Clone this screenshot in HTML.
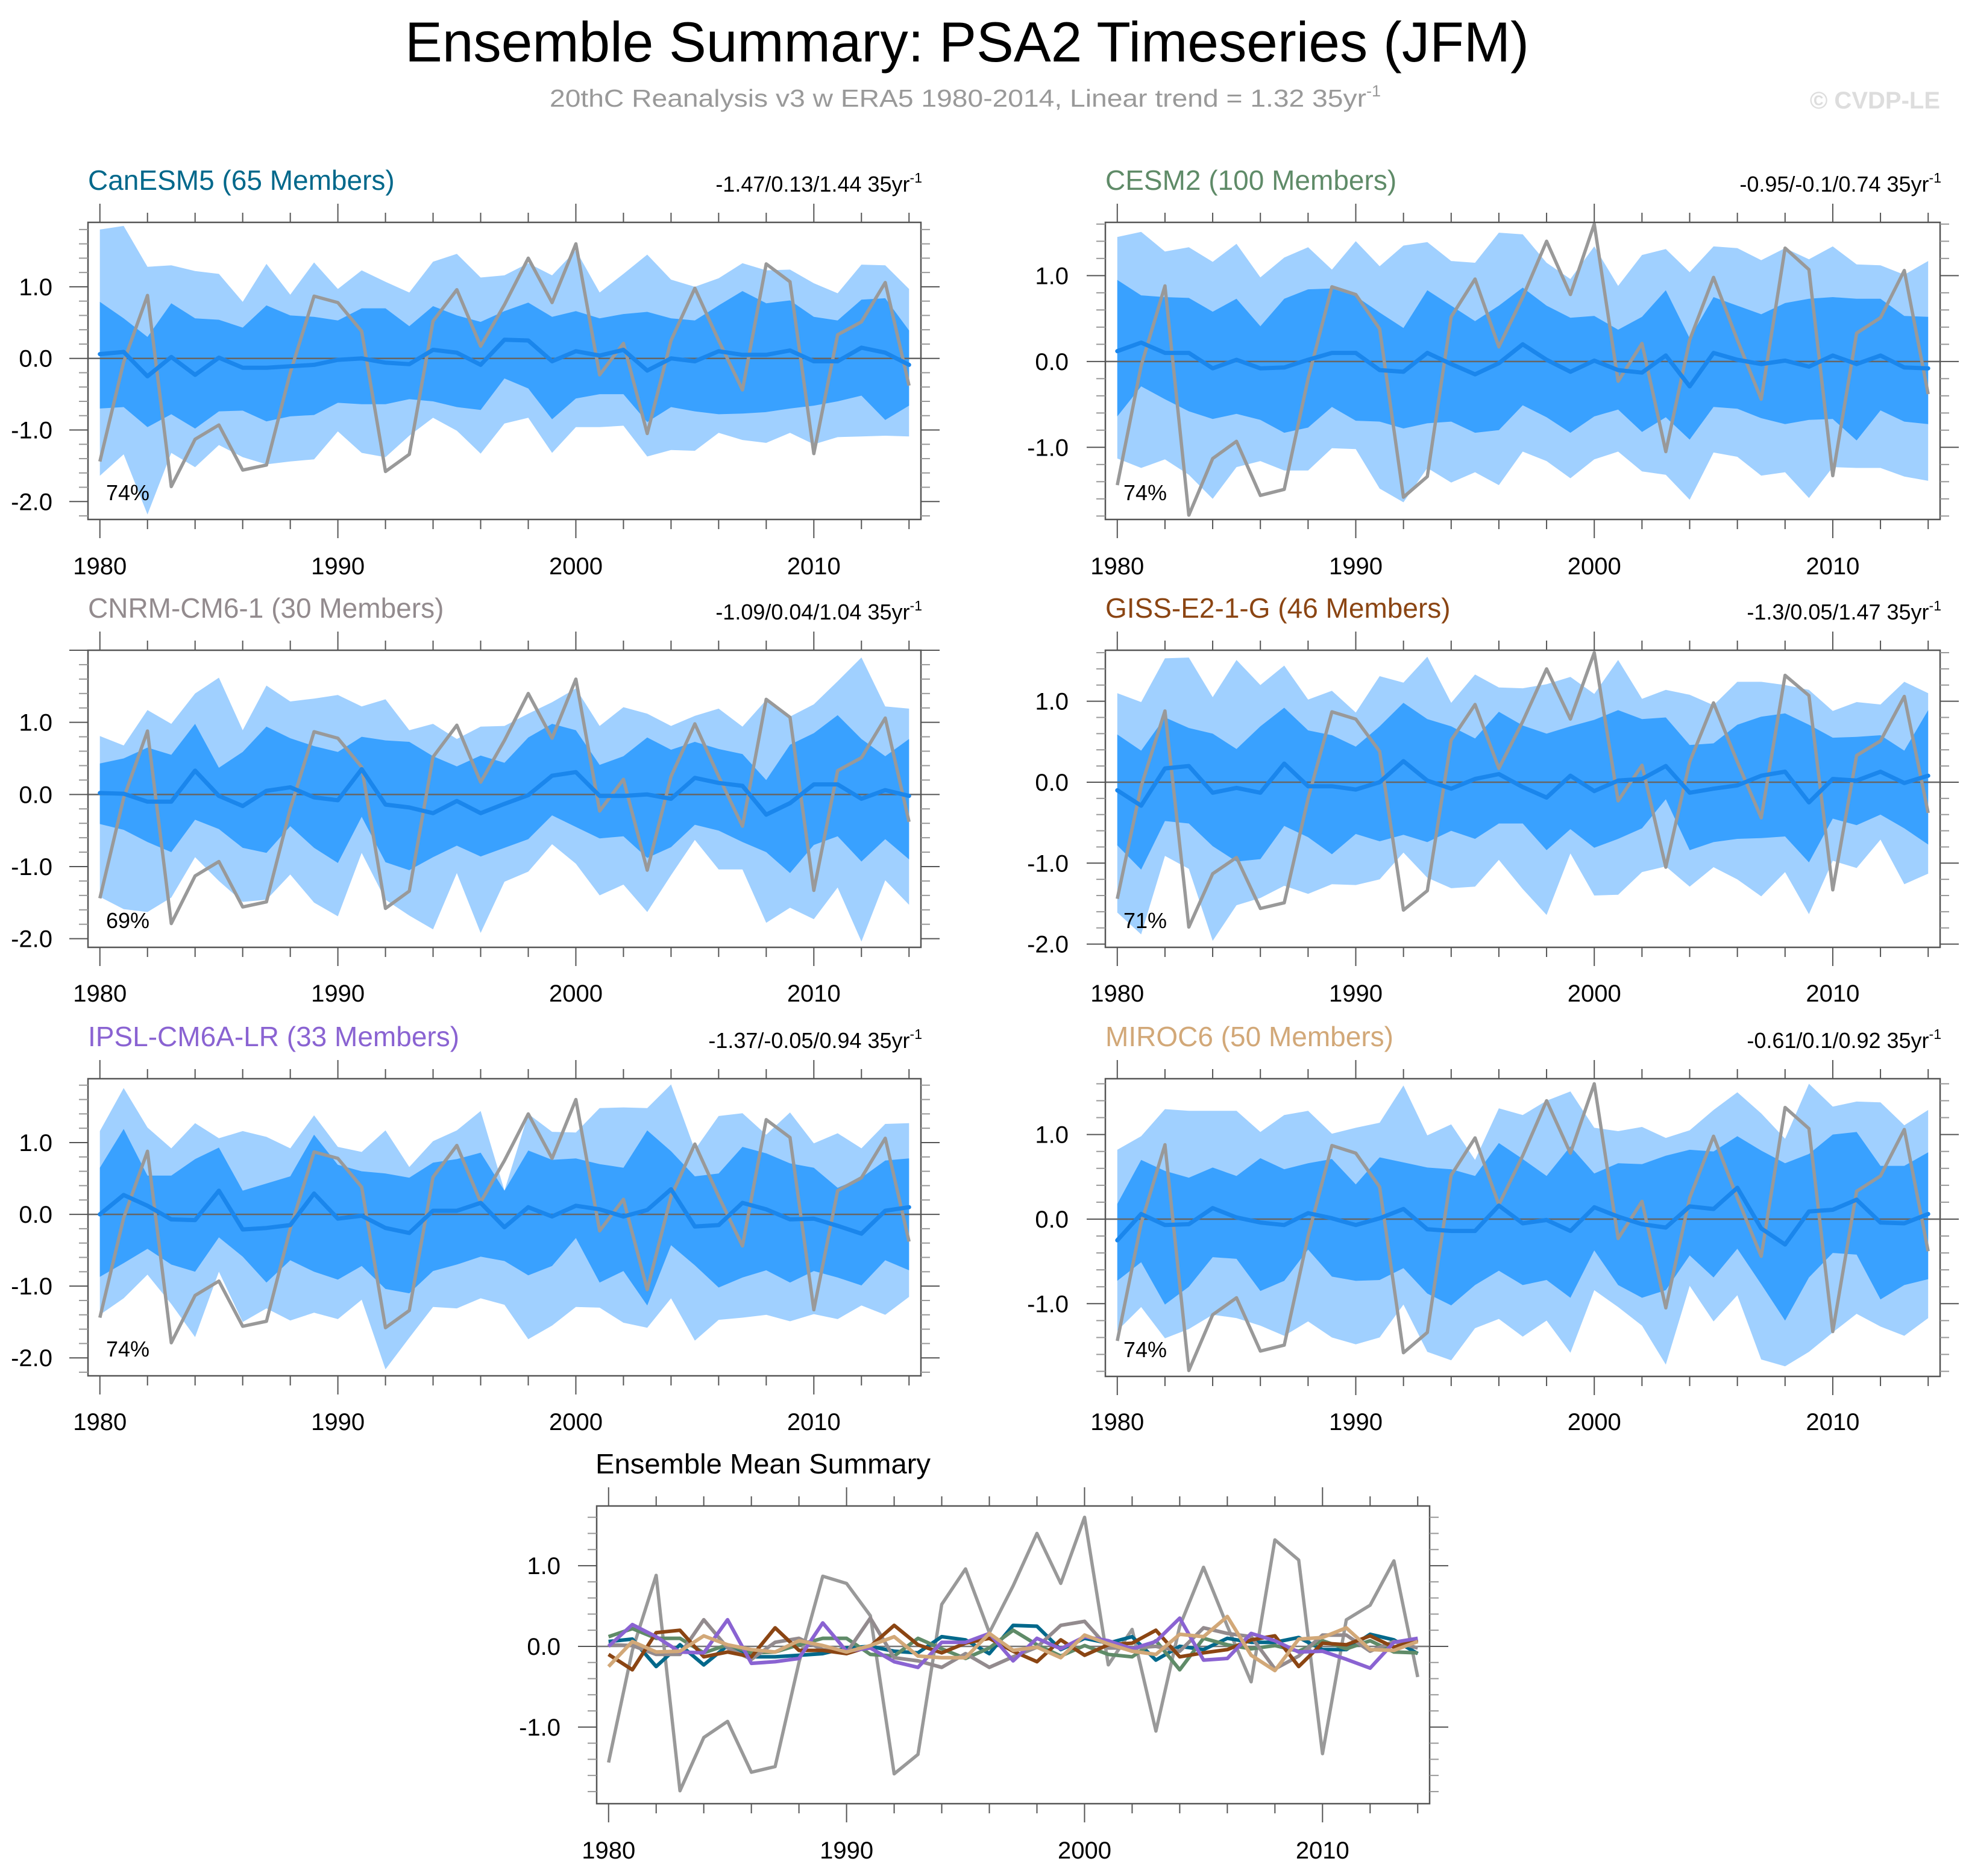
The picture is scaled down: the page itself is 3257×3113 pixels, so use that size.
<!DOCTYPE html>
<html><head><meta charset="utf-8"><title>Ensemble Summary: PSA2 Timeseries (JFM)</title>
<style>
html,body{margin:0;padding:0;background:#fff;}
svg{display:block;font-family:"Liberation Sans",Arial,sans-serif;}
</style></head>
<body>
<svg id="chart" xmlns="http://www.w3.org/2000/svg" width="3257" height="3113" viewBox="0 0 3257 3113">
<rect x="0" y="0" width="3257" height="3113" fill="#fff"/>
<text x="672" y="102" font-size="94" textLength="1865" lengthAdjust="spacingAndGlyphs" fill="#000">Ensemble Summary: PSA2 Timeseries (JFM)</text>
<text x="912" y="177" font-size="41" fill="#999"><tspan textLength="1355" lengthAdjust="spacingAndGlyphs">20thC Reanalysis v3 w ERA5 1980-2014, Linear trend = 1.32 35yr</tspan><tspan font-size="27" dy="-17">-1</tspan></text>
<text x="3219" y="180" font-size="40" font-weight="bold" text-anchor="end" fill="#ddd">© CVDP-LE</text>
<g id="plots"></g>
</svg>
<script>
const years = [];
for (let y = 1980; y <= 2014; y++) years.push(y);

const obsValues = [-1.44,-0.05,0.88,-1.79,-1.13,-0.93,-1.56,-1.49,-0.2,0.87,0.78,0.38,-1.58,-1.34,0.52,0.96,0.17,0.75,1.40,0.78,1.60,-0.23,0.21,-1.05,0.25,0.98,0.25,-0.44,1.32,1.07,-1.33,0.33,0.51,1.06,-0.38];

const canMean = [0.06,0.09,-0.25,0.02,-0.23,0.01,-0.13,-0.13,-0.11,-0.09,-0.02,0,-0.06,-0.08,0.12,0.08,-0.09,0.26,0.25,-0.04,0.10,0.04,0.12,-0.17,0,-0.04,0.10,0.05,0.05,0.11,-0.04,-0.04,0.15,0.08,-0.09];
const canOutHi = [1.80,1.85,1.28,1.30,1.22,1.18,0.79,1.32,0.89,1.34,0.97,1.23,1.07,0.92,1.35,1.46,1.13,1.16,1.33,1.16,1.51,0.92,1.18,1.45,1.10,1.00,1.12,1.33,1.23,1.24,1.05,0.91,1.31,1.30,0.97];
const canInHi = [0.79,0.56,0.30,0.77,0.56,0.54,0.43,0.74,0.60,0.58,0.53,0.70,0.70,0.45,0.73,0.60,0.51,0.66,0.78,0.58,0.66,0.56,0.62,0.65,0.56,0.53,0.74,0.94,0.77,0.81,0.58,0.53,0.82,0.84,0.39];
const canInLo = [-0.70,-0.68,-0.96,-0.78,-0.98,-0.74,-0.73,-0.88,-0.81,-0.79,-0.62,-0.64,-0.64,-0.57,-0.60,-0.68,-0.72,-0.28,-0.42,-0.85,-0.56,-0.50,-0.50,-0.89,-0.68,-0.74,-0.78,-0.77,-0.75,-0.70,-0.66,-0.60,-0.52,-0.86,-0.66];
const canOutLo = [-1.64,-1.34,-2.18,-1.32,-1.52,-1.21,-1.38,-1.48,-1.44,-1.41,-1.02,-1.32,-1.38,-1.08,-0.83,-1.01,-1.33,-0.91,-0.83,-1.32,-0.96,-0.96,-0.94,-1.37,-1.28,-1.29,-1.04,-1.14,-1.18,-1.04,-1.20,-1.10,-1.09,-1.08,-1.09];

const cesmMean = [0.12,0.22,0.10,0.10,-0.08,0.02,-0.08,-0.07,0.02,0.10,0.10,-0.10,-0.12,0.10,-0.03,-0.15,-0.02,0.20,0.02,-0.12,0.01,-0.10,-0.13,0.07,-0.29,0.10,0.02,-0.03,0.01,-0.06,0.07,-0.03,0.07,-0.07,-0.08];
const cesmOutHi = [1.45,1.51,1.28,1.33,1.16,1.37,0.98,1.21,1.33,1.07,1.40,1.11,1.35,1.39,1.17,1.15,1.50,1.48,1.15,0.96,1.34,0.88,1.24,1.31,1.04,1.34,1.32,1.18,1.32,1.19,1.34,1.13,1.12,1.01,1.17];
const cesmInHi = [0.95,0.77,0.75,0.74,0.58,0.73,0.41,0.73,0.84,0.85,0.76,0.57,0.39,0.83,0.65,0.47,0.65,0.86,0.65,0.51,0.53,0.37,0.52,0.83,0.27,0.75,0.65,0.55,0.68,0.73,0.75,0.73,0.73,0.53,0.52];
const cesmInLo = [-0.64,-0.29,-0.44,-0.58,-0.67,-0.61,-0.68,-0.83,-0.77,-0.53,-0.69,-0.70,-0.78,-0.72,-0.70,-0.83,-0.80,-0.51,-0.65,-0.83,-0.64,-0.56,-0.82,-0.65,-0.91,-0.53,-0.55,-0.66,-0.73,-0.68,-0.67,-0.92,-0.57,-0.70,-0.73];
const cesmOutLo = [-1.13,-1.24,-1.14,-1.32,-1.60,-1.23,-1.16,-1.27,-1.27,-1.01,-1.02,-1.48,-1.64,-1.24,-1.41,-1.29,-1.44,-1.05,-1.16,-1.36,-1.14,-1.05,-1.28,-1.32,-1.61,-1.06,-1.11,-1.33,-1.29,-1.59,-1.23,-1.24,-1.24,-1.34,-1.39];

const cnrmMean = [0.02,0.01,-0.10,-0.10,0.33,-0.02,-0.16,0.05,0.10,-0.04,-0.08,0.35,-0.14,-0.18,-0.26,-0.09,-0.26,-0.13,-0.01,0.26,0.31,-0.02,-0.02,0,-0.06,0.23,0.16,0.12,-0.28,-0.12,0.14,0.14,-0.06,0.06,-0.02];
const cnrmOutHi = [0.81,0.68,1.17,0.98,1.40,1.62,0.89,1.51,1.29,1.33,1.38,1.22,1.32,0.89,0.98,0.77,0.94,0.95,1.12,1.28,1.47,0.95,1.21,1.12,0.95,1.09,1.19,0.94,1.31,1.08,1.25,1.57,1.90,1.22,1.19];
const cnrmInHi = [0.43,0.50,0.65,0.55,0.98,0.37,0.59,0.94,0.78,0.67,0.59,0.80,0.75,0.73,0.53,0.39,0.54,0.44,0.79,0.98,0.89,0.41,0.53,0.79,0.62,0.73,0.63,0.56,0.20,0.69,0.85,1.10,0.77,0.53,0.77];
const cnrmInLo = [-0.41,-0.49,-0.66,-0.80,-0.35,-0.48,-0.74,-0.81,-0.44,-0.74,-0.95,-0.31,-0.94,-1.05,-0.87,-0.71,-0.86,-0.74,-0.62,-0.29,-0.45,-0.61,-0.58,-0.88,-0.73,-0.42,-0.50,-0.66,-0.80,-1.09,-0.70,-0.58,-0.93,-0.62,-0.90];
const cnrmOutLo = [-1.42,-1.59,-1.63,-1.43,-0.87,-1.20,-1.49,-1.46,-1.11,-1.50,-1.69,-0.81,-1.46,-1.68,-1.87,-1.09,-1.92,-1.21,-1.07,-0.69,-0.96,-1.40,-1.25,-1.63,-1.12,-0.63,-1.04,-1.04,-1.78,-1.57,-1.73,-1.29,-2.04,-1.19,-1.53];

const gissMean = [-0.10,-0.29,0.17,0.20,-0.13,-0.07,-0.13,0.23,-0.05,-0.05,-0.09,0,0.26,0.02,-0.08,0.04,0.10,-0.06,-0.19,0.08,-0.11,0.02,0.04,0.20,-0.13,-0.08,-0.04,0.08,0.13,-0.25,0.04,0.02,0.13,-0.01,0.08];
const gissOutHi = [1.10,0.99,1.53,1.54,1.05,1.51,1.20,1.44,1.02,1.13,0.86,1.31,1.23,1.55,0.98,1.33,1.17,1.16,1.21,1.30,1.09,1.51,1.03,1.14,1.08,0.95,1.24,1.24,1.20,1.14,0.88,0.99,0.96,1.24,1.10];
const gissInHi = [0.59,0.39,0.80,0.67,0.60,0.41,0.69,0.92,0.64,0.58,0.44,0.69,0.98,0.78,0.69,0.54,0.87,0.70,0.60,0.69,0.77,0.89,0.78,0.80,0.46,0.48,0.71,0.81,0.85,0.71,0.55,0.56,0.58,0.39,0.89];
const gissInLo = [-0.78,-1.08,-0.48,-0.51,-0.79,-0.98,-0.95,-0.54,-0.68,-0.89,-0.64,-0.73,-0.65,-0.74,-0.60,-0.70,-0.51,-0.51,-0.84,-0.58,-0.81,-0.70,-0.57,-0.21,-0.84,-0.74,-0.70,-0.69,-0.67,-0.99,-0.45,-0.53,-0.40,-0.57,-0.77];
const gissOutLo = [-1.61,-1.88,-0.91,-1.07,-1.96,-1.52,-1.43,-1.28,-1.38,-1.26,-1.27,-1.20,-0.87,-1.18,-1.31,-1.29,-0.96,-1.32,-1.64,-0.88,-1.40,-1.39,-1.11,-1.04,-1.29,-1.05,-1.20,-1.41,-1.11,-1.63,-0.97,-1.06,-0.71,-1.26,-1.13];

const ipslMean = [0,0.27,0.12,-0.07,-0.08,0.33,-0.21,-0.19,-0.15,0.29,-0.06,-0.02,-0.19,-0.26,0.05,0.05,0.16,-0.18,0.10,-0.03,0.12,0.07,-0.03,0.06,0.35,-0.17,-0.15,0.16,0.07,-0.07,-0.06,-0.16,-0.27,0.05,0.10];
const ipslOutHi = [1.16,1.76,1.21,0.92,1.27,1.06,1.16,1.08,0.92,1.38,0.94,0.87,1.17,0.66,1.02,1.17,1.44,0.33,1.40,1.15,1.14,1.48,1.49,1.48,1.81,0.90,1.37,1.41,1.11,1.42,0.99,1.13,0.92,1.26,1.27];
const ipslInHi = [0.65,1.19,0.54,0.54,0.77,0.93,0.33,0.43,0.53,1.11,0.69,0.60,0.57,0.51,0.72,0.77,0.86,0.33,0.89,0.76,0.78,0.70,0.65,1.17,0.88,0.53,0.57,0.94,0.85,0.71,0.65,0.37,0.51,0.75,0.78];
const ipslInLo = [-0.87,-0.68,-0.48,-0.70,-0.80,-0.32,-0.59,-0.95,-0.64,-0.80,-0.91,-0.72,-1.04,-1.10,-0.79,-0.70,-0.59,-0.65,-0.85,-0.72,-0.33,-0.95,-0.79,-1.27,-0.43,-0.71,-1.02,-0.88,-0.78,-0.95,-0.79,-0.88,-0.99,-0.64,-0.78];
const ipslOutLo = [-1.40,-1.17,-0.84,-1.25,-1.71,-0.80,-1.50,-1.31,-1.48,-1.37,-1.46,-1.19,-2.16,-1.72,-1.29,-1.31,-1.17,-1.26,-1.74,-1.55,-1.29,-1.30,-1.51,-1.58,-1.17,-1.76,-1.47,-1.44,-1.40,-1.49,-1.39,-1.46,-1.27,-1.40,-1.15];

const mirocMean = [-0.25,0.06,-0.07,-0.06,0.13,0.02,-0.04,-0.07,0.07,0.01,-0.07,0.01,0.12,-0.12,-0.14,-0.14,0.16,-0.05,-0.01,-0.14,0.14,0.03,-0.06,-0.10,0.15,0.12,0.37,-0.11,-0.30,0.09,0.11,0.23,-0.04,-0.05,0.06];
const mirocOutHi = [0.82,0.98,1.30,1.28,1.28,1.28,1.03,1.23,1.28,1.01,1.08,1.14,1.58,0.99,1.12,0.70,1.31,1.23,1.40,1.51,1.08,1.04,1.09,0.96,1.05,1.29,1.50,1.25,0.95,1.60,1.33,1.39,1.38,1.11,1.29];
const mirocInHi = [0.18,0.70,0.57,0.49,0.61,0.51,0.72,0.59,0.66,0.71,0.41,0.73,0.67,0.61,0.59,0.51,0.90,0.71,0.51,0.86,0.54,0.66,0.65,0.75,0.82,0.80,0.98,0.81,0.66,0.77,1.00,1.03,0.63,0.63,0.79];
const mirocInLo = [-0.73,-0.51,-1.01,-0.80,-0.45,-0.47,-0.85,-0.73,-0.36,-0.68,-0.73,-0.72,-0.58,-0.88,-1.02,-0.78,-0.61,-0.78,-0.72,-0.93,-0.37,-0.78,-0.93,-0.84,-0.43,-0.69,-0.35,-0.77,-1.20,-0.69,-0.40,-0.42,-0.95,-0.78,-0.71];
const mirocOutLo = [-1.32,-1.04,-1.41,-1.30,-1.13,-1.17,-1.26,-1.38,-1.21,-1.40,-1.48,-1.40,-1.01,-1.57,-1.67,-1.29,-1.18,-1.39,-1.20,-1.58,-0.84,-1.04,-1.26,-1.72,-0.79,-1.21,-0.90,-1.66,-1.74,-1.57,-1.34,-1.12,-1.27,-1.38,-1.17];

const xTickYears = [1980, 1990, 2000, 2010];
const yTickLabels = ["-2.0", "-1.0", "0.0", "1.0"];
const yTickValues = [-2, -1, 0, 1];

const NS = "http://www.w3.org/2000/svg";
const root = document.getElementById("plots");
function mk(tag, attrs, parent) {
  const el = document.createElementNS(NS, tag);
  for (const k in attrs) el.setAttribute(k, attrs[k]);
  (parent || root).appendChild(el);
  return el;
}

const panels = [
  {key:"canesm5", title:"CanESM5 (65 Members)", color:"#00688b", trend:"-1.47/0.13/1.44 35yr", pct:"74%",
   x0:146, x1:1528, y0:369, y1:862, ymin:-2.25, ymax:1.90, titleY:315, labelY:953, yLabX:87,
   mean:canMean, outHi:canOutHi, inHi:canInHi, inLo:canInLo, outLo:canOutLo},
  {key:"cesm2", title:"CESM2 (100 Members)", color:"#5f8b68", trend:"-0.95/-0.1/0.74 35yr", pct:"74%",
   x0:1834, x1:3219, y0:369, y1:862, ymin:-1.84, ymax:1.62, titleY:315, labelY:953, yLabX:1773,
   mean:cesmMean, outHi:cesmOutHi, inHi:cesmInHi, inLo:cesmInLo, outLo:cesmOutLo},
  {key:"cnrm-cm6-1", title:"CNRM-CM6-1 (30 Members)", color:"#938b8e", trend:"-1.09/0.04/1.04 35yr", pct:"69%",
   x0:146, x1:1528, y0:1079, y1:1572, ymin:-2.12, ymax:2.00, titleY:1025, labelY:1662, yLabX:87,
   mean:cnrmMean, outHi:cnrmOutHi, inHi:cnrmInHi, inLo:cnrmInLo, outLo:cnrmOutLo},
  {key:"giss-e2-1-g", title:"GISS-E2-1-G (46 Members)", color:"#8b4513", trend:"-1.3/0.05/1.47 35yr", pct:"71%",
   x0:1834, x1:3219, y0:1079, y1:1572, ymin:-2.04, ymax:1.63, titleY:1025, labelY:1662, yLabX:1773,
   mean:gissMean, outHi:gissOutHi, inHi:gissInHi, inLo:gissInLo, outLo:gissOutLo},
  {key:"ipsl-cm6a-lr", title:"IPSL-CM6A-LR (33 Members)", color:"#8a63d2", trend:"-1.37/-0.05/0.94 35yr", pct:"74%",
   x0:146, x1:1528, y0:1790, y1:2283, ymin:-2.25, ymax:1.89, titleY:1736, labelY:2373, yLabX:87,
   mean:ipslMean, outHi:ipslOutHi, inHi:ipslInHi, inLo:ipslInLo, outLo:ipslOutLo},
  {key:"miroc6", title:"MIROC6 (50 Members)", color:"#d2a878", trend:"-0.61/0.1/0.92 35yr", pct:"74%",
   x0:1834, x1:3219, y0:1790, y1:2284, ymin:-1.86, ymax:1.66, titleY:1736, labelY:2373, yLabX:1773,
   mean:mirocMean, outHi:mirocOutHi, inHi:mirocInHi, inLo:mirocInLo, outLo:mirocOutLo}
];

function axes(cfg, g) {
  const xs = y => cfg.x0 + (y - 1979.5) / 35 * (cfg.x1 - cfg.x0);
  const ys = v => cfg.y0 + (cfg.ymax - v) / (cfg.ymax - cfg.ymin) * (cfg.y1 - cfg.y0);
  return {xs, ys};
}

function drawFrameAndTicks(cfg, g, xs, ys) {
  const frame = mk("rect", {x:cfg.x0, y:cfg.y0, width:cfg.x1-cfg.x0, height:cfg.y1-cfg.y0, fill:"none", stroke:"#555", "stroke-width":2.5}, g);
  
  
  for (let yr = 1980; yr <= 2014; yr += 2) {
    const major = (yr % 10 === 0);
    const len = major ? 31 : 16;
    const x = xs(yr);
    const tb = mk("line", {x1:x, x2:x, y1:cfg.y1, y2:cfg.y1+len, stroke:"#555", "stroke-width":2}, g);
    
    
    const tt = mk("line", {x1:x, x2:x, y1:cfg.y0, y2:cfg.y0-len, stroke:"#555", "stroke-width":2}, g);
    
    
  }
  const start = Math.ceil(cfg.ymin * 5 - 1e-6), end = Math.floor(cfg.ymax * 5 + 1e-6);
  for (let i = start; i <= end; i++) {
    const v = i / 5;
    const major = (i % 5 === 0);
    const len = major ? 31 : 15;
    const y = ys(v);
    const tl = mk("line", {x1:cfg.x0, x2:cfg.x0-len, y1:y, y2:y, stroke:major?"#555":"#999", "stroke-width":2}, g);
    
    
    const tr = mk("line", {x1:cfg.x1, x2:cfg.x1+len, y1:y, y2:y, stroke:major?"#555":"#999", "stroke-width":2}, g);
    
    
  }
  xTickYears.forEach(yr => {
    const t = mk("text", {x:xs(yr), y:cfg.labelY, "font-size":40, "text-anchor":"middle", fill:"#000"}, g);
    t.textContent = String(yr);
    
    
  });
  yTickValues.forEach((v, i) => {
    if (v < cfg.ymin || v > cfg.ymax) return;
    const t = mk("text", {x:cfg.yLabX, y:ys(v)+14, "font-size":40, "text-anchor":"end", fill:"#000"}, g);
    t.textContent = yTickLabels[i];
    
    
  });
}

function pathFrom(vals, xs, ys) {
  return vals.map((v, i) => (i ? "L" : "M") + xs(years[i]).toFixed(1) + "," + ys(v).toFixed(1)).join(" ");
}
function bandFrom(hi, lo, xs, ys) {
  let d = hi.map((v, i) => (i ? "L" : "M") + xs(years[i]).toFixed(1) + "," + ys(v).toFixed(1)).join(" ");
  for (let i = lo.length - 1; i >= 0; i--) d += " L" + xs(years[i]).toFixed(1) + "," + ys(lo[i]).toFixed(1);
  return d + " Z";
}

panels.forEach(cfg => {
  const g = mk("g", {});
  
  
  const {xs, ys} = axes(cfg, g);

  const outer = mk("path", {d:bandFrom(cfg.outHi, cfg.outLo, xs, ys), fill:"#a0d0ff"}, g);
  
  
  const inner = mk("path", {d:bandFrom(cfg.inHi, cfg.inLo, xs, ys), fill:"#39a1ff"}, g);
  
  

  const zero = mk("line", {x1:cfg.x0, x2:cfg.x1, y1:ys(0), y2:ys(0), stroke:"#666", "stroke-width":2.5}, g);
  
  

  const obs = mk("path", {d:pathFrom(obsValues, xs, ys), fill:"none", stroke:"#999", "stroke-width":5.5, "stroke-linejoin":"round"}, g);
  
  
  const mean = mk("path", {d:pathFrom(cfg.mean, xs, ys), fill:"none", stroke:"#1a86ec", "stroke-width":7, "stroke-linejoin":"round", "stroke-linecap":"round"}, g);
  
  

  drawFrameAndTicks(cfg, g, xs, ys);

  const title = mk("text", {x:cfg.x0, y:cfg.titleY, "font-size":46, fill:cfg.color}, g);
  title.textContent = cfg.title;
  
  

  const tr = mk("text", {x:cfg.x1+2, y:cfg.titleY+3, "font-size":36, "text-anchor":"end", fill:"#000"}, g);
  
  
  tr.appendChild(document.createTextNode(cfg.trend));
  const sup = mk("tspan", {"font-size":23, dy:-15}, tr);
  sup.textContent = "-1";

  const pct = mk("text", {x:cfg.x0+30, y:cfg.y1-32, "font-size":36, fill:"#000"}, g);
  pct.textContent = cfg.pct;
  
  
});

const sumCfg = {x0:990, x1:2372, y0:2499, y1:2993, ymin:-1.95, ymax:1.74, labelY:3084, yLabX:930};
const sg = mk("g", {});


const sa = axes(sumCfg, sg);
const sz = mk("line", {x1:sumCfg.x0, x2:sumCfg.x1, y1:sa.ys(0), y2:sa.ys(0), stroke:"#777", "stroke-width":2.5}, sg);


const sobs = mk("path", {d:pathFrom(obsValues, sa.xs, sa.ys), fill:"none", stroke:"#999", "stroke-width":5.5, "stroke-linejoin":"round"}, sg);


panels.forEach(cfg => {
  const l = mk("path", {d:pathFrom(cfg.mean, sa.xs, sa.ys), fill:"none", stroke:cfg.color, "stroke-width":6, "stroke-linejoin":"round"}, sg);
  
  
});
drawFrameAndTicks(sumCfg, sg, sa.xs, sa.ys);
const st = mk("text", {x:988, y:2445, "font-size":46, textLength:556, lengthAdjust:"spacingAndGlyphs", fill:"#000"}, sg);
st.textContent = "Ensemble Mean Summary";


</script>
</body></html>
